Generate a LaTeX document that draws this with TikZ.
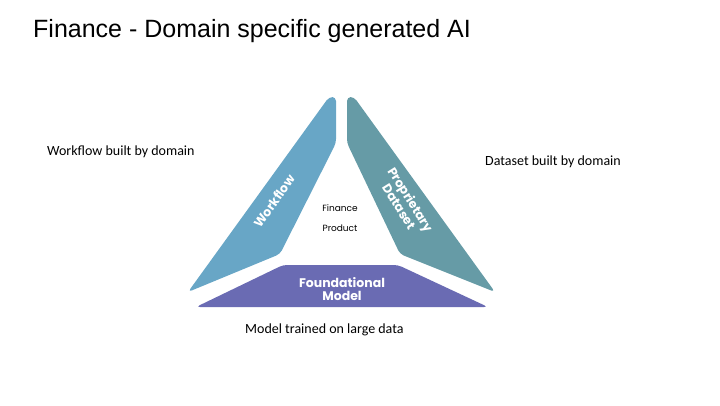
\documentclass[tikz,border=0pt]{standalone}
\usepackage{fontspec}
\setmainfont{Liberation Sans}
\newfontfamily\calfont{Carlito}
\newfontfamily\geofont{Poppins}
\definecolor{flowblue}{HTML}{68A6C6}
\definecolor{datateal}{HTML}{669BA6}
\definecolor{modelblue}{HTML}{6A6BB3}
\tikzset{
  piece/.style={rounded corners=4pt},
  side/.style={anchor=west, inner sep=0pt, font=\calfont\fontsize{14}{16}\selectfont},
  inlabel/.style={text=white, align=center, inner sep=0pt,
    font=\geofont\bfseries\fontsize{12.5}{13.5}\selectfont}
}
\begin{document}
\begin{tikzpicture}[x=1pt,y=-1pt]
      \useasboundingbox (0,0) rectangle (720,405);
      \node[anchor=west, inner sep=0pt, font=\fontsize{25}{28}\selectfont] (title) at (33,31)
        {Finance - Domain specific generated AI};
      % the three pieces
      \fill[flowblue, piece] (336,97) -- (336,143) -- (280,254) -- (188,292) -- (329,97) -- cycle;
      \fill[datateal, piece] (347,97) -- (347,143) -- (400,254) -- (495,292) -- (354,97) -- cycle;
      \fill[modelblue, piece] (283,265) -- (398,265) -- (488,307) -- (196,307) -- cycle;
      \node[inlabel, rotate=55] (flow) at (274,201) {Workflow};
      \node[inlabel, rotate=-58] (data) at (405,203) {Proprietary\\Dataset};
      \node[inlabel] (model) at (342,289) {Foundational\\Model};
      \node[align=center, inner sep=0pt, font=\geofont\fontsize{9}{20}\selectfont] (product) at (340,218)
        {Finance\\Product};
      % notes
      \node[side] (flownote) at (47,152) {Workflow built by domain};
      \node[side] (datanote) at (485,162) {Dataset built by domain};
      \node[side] (modelnote) at (245,330) {Model trained on large data};
    \end{tikzpicture}
\end{document}
